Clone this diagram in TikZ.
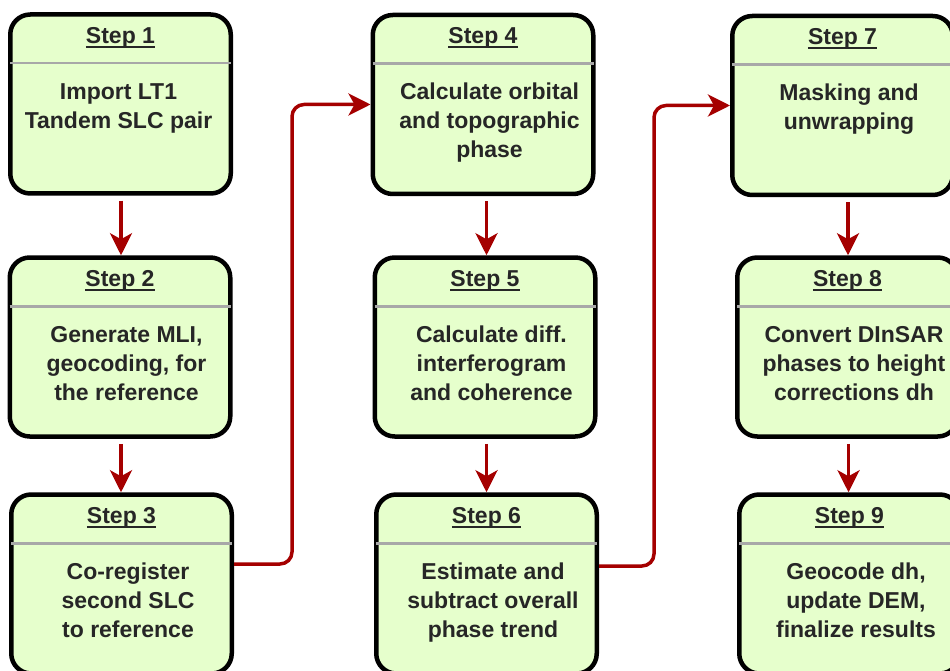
\documentclass[tikz,border=0pt]{standalone}
\usepackage{fontspec}
\setmainfont{Liberation Sans}
\usetikzlibrary{arrows.meta,calc}
\definecolor{boxfill}{HTML}{E6FFCC}
\definecolor{arrred}{HTML}{A50000}
\definecolor{sepgray}{HTML}{A8A8A8}
\definecolor{txt}{HTML}{262626}
\newcommand\mkstep[6]{%
  \node[stepbox] (b#1) at (#2,#3) {};
  \draw[sepline] ($(b#1.north west)+(2,51)$) -- ($(b#1.north east)+(-2,51)$);
  \node[steptitle] (t#1) at ($(b#1.north)+(0,31)$) {#4};
  \draw[uline] ([yshift=-3.5pt]t#1.base west) -- ([yshift=-3.5pt]t#1.base east);
  \node[stepbody] (d#1) at ($(b#1.north)+(#6,66.7)$) {\strut #5};
}
\begin{document}
\begin{tikzpicture}[x=1pt,y=-1pt,
  stepbox/.style={draw=black, line width=4.5pt, fill=boxfill, rounded corners=20pt,
    minimum width=220.5pt, minimum height=179pt, inner sep=0pt},
  steptitle/.style={font=\bfseries\fontsize{23}{29}\selectfont, text=txt, inner sep=0pt, anchor=base},
  stepbody/.style={font=\bfseries\fontsize{23}{29}\selectfont, text=txt, inner sep=0pt,
    anchor=north, align=center},
  sepline/.style={draw=sepgray, line width=2.5pt},
  uline/.style={draw=txt, line width=1.8pt},
  arr/.style={draw=arrred, line width=3.5pt, -{Stealth[length=22pt,width=22pt,inset=6pt]},
    rounded corners=12pt},
]
\useasboundingbox (0,0) rectangle (950,671);
\clip (0,0) rectangle (950,671);

\mkstep{1}{120.5}{104}{Step 1}{Import LT1\\Tandem SLC pair}{-2}
\mkstep{2}{120}{347}{Step 2}{Generate MLI,\\geocoding, for\\the reference}{6.5}
\mkstep{3}{121.5}{584}{Step 3}{Co-register\\second SLC\\to reference}{6.5}
\mkstep{4}{483}{104.5}{Step 4}{Calculate orbital\\and topographic\\phase}{6.5}
\mkstep{5}{485}{347}{Step 5}{Calculate diff.\\interferogram\\and coherence}{6.5}
\mkstep{6}{486.5}{584}{Step 6}{Estimate and\\subtract overall\\phase trend}{6.5}
\mkstep{7}{842.5}{105.5}{Step 7}{Masking and\\unwrapping}{6.5}
\mkstep{8}{847.5}{347}{Step 8}{Convert DInSAR\\phases to height\\corrections dh}{6.5}
\mkstep{9}{849.5}{584}{Step 9}{Geocode dh,\\update DEM,\\finalize results}{6.5}

\coordinate (a1) at ([xshift=0.5pt]b1.south);
\coordinate (a2) at ([xshift=1pt]b2.south);
\coordinate (a4) at ([xshift=3.5pt]b4.south);
\coordinate (a5) at ([xshift=1.5pt]b5.south);
\coordinate (a7) at ([xshift=5.5pt]b7.south);
\coordinate (a8) at ([xshift=1pt]b8.south);
\draw[arr, shorten <=5pt] (a1) -- (a1 |- b2.north);
\draw[arr, shorten <=5pt] (a2) -- (a2 |- b3.north);
\draw[arr, shorten <=5pt] (a4) -- (a4 |- b5.north);
\draw[arr, shorten <=5pt] (a5) -- (a5 |- b6.north);
\draw[arr, shorten <=5pt] (a7) -- (a7 |- b8.north);
\draw[arr, shorten <=5pt] (a8) -- (a8 |- b9.north);

\coordinate (j1) at (292,104.5);
\coordinate (j2) at (654,105.5);
\draw[arr] ([yshift=20pt]b3.east) -| (j1) -- (b4.west);
\draw[arr] ([yshift=18pt]b6.east) -| (j2) -- (b7.west);
\end{tikzpicture}
\end{document}
